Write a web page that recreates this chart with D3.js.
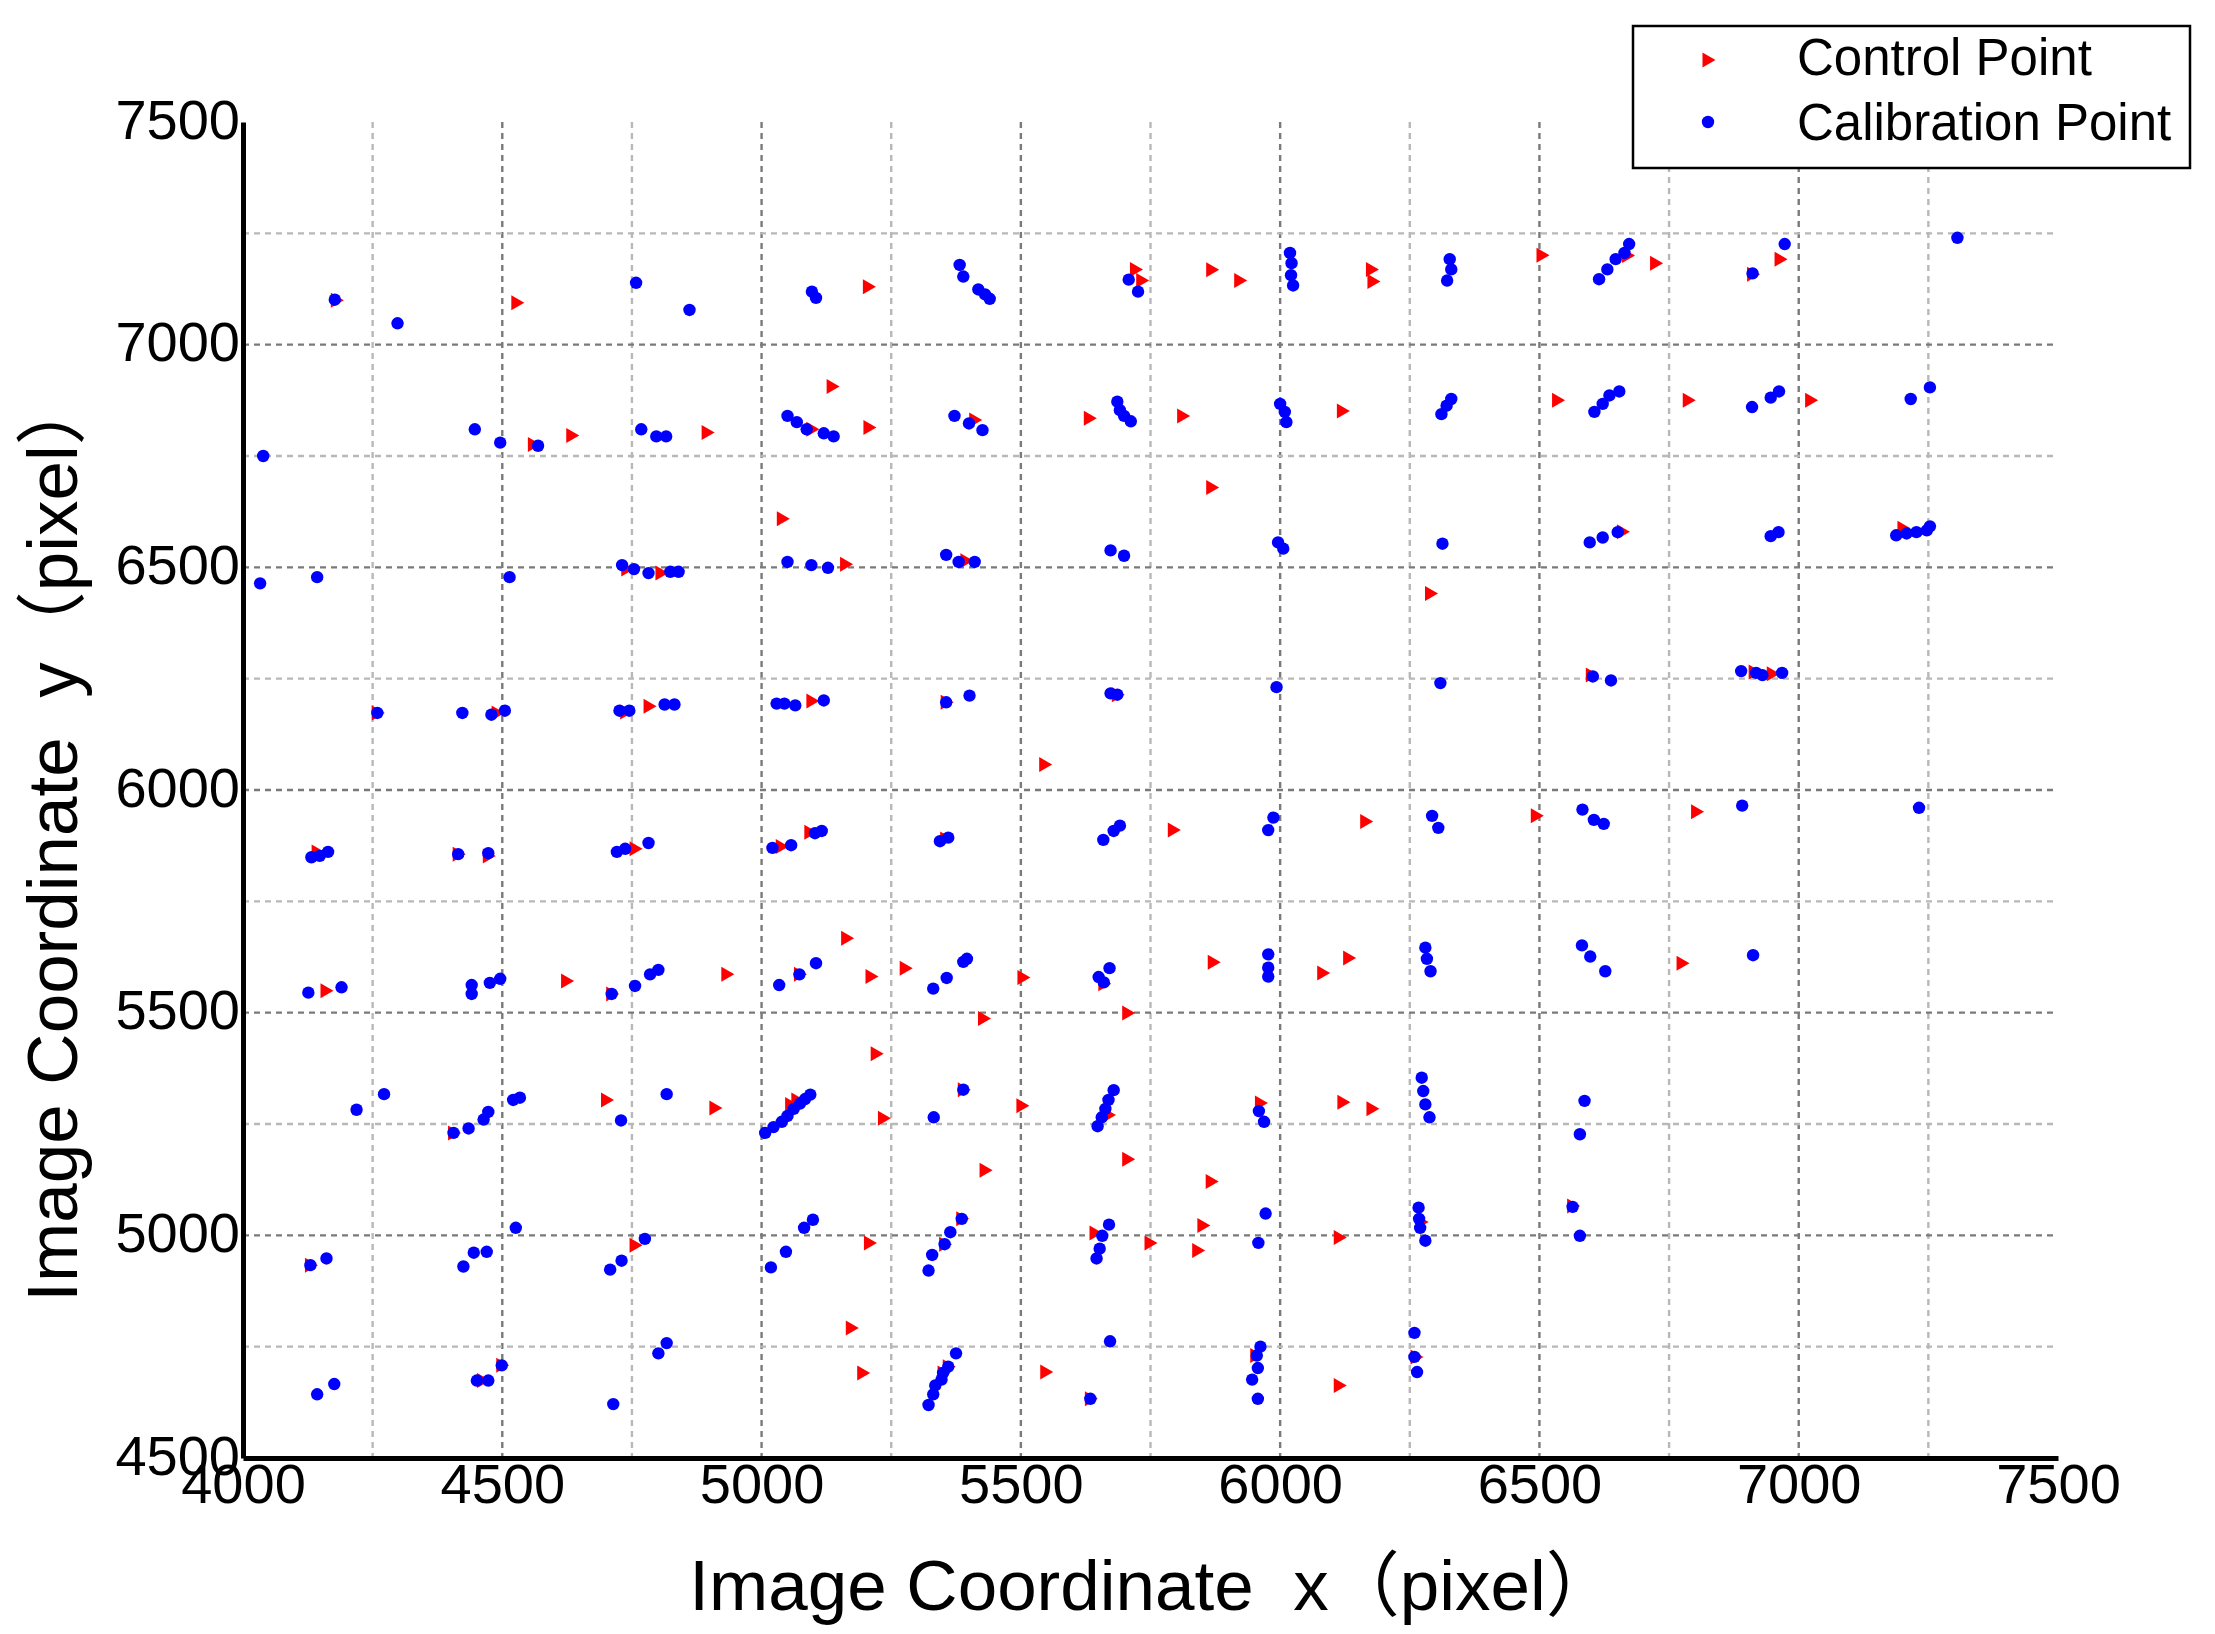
<!DOCTYPE html>
<html>
<head>
<meta charset="utf-8">
<script src="https://cdn.jsdelivr.net/npm/d3@7"></script>
<style>
  body { margin: 0; background: #fff; }
  text { font-family: "Liberation Sans", Arial, "Noto Sans CJK SC", sans-serif; }
</style>
</head>
<body>
<svg id="chart" width="2215" height="1634"></svg>
<script>
// red control points [x, y] in image pixels
const controlPoints = [
  [4180,7100],[4528,7094],[5206,7130],[5721,7169],[5733,7144],[5868,7168],[5922,7144],
  [6176,7169],[6179,7142],[6505,7201],[6670,7200],[6724,7183],[6911,7158],[6964,7192],
  [4560,6776],[4634,6796],[4895,6803],[5136,6906],[5097,6810],[5207,6814],[5411,6831],
  [5632,6835],[5812,6840],[6120,6851],[6535,6875],[6787,6875],[7023,6875],
  [5868,6679],[5040,6609],
  [4740,6496],[4806,6487],[5162,6507],[5394,6515],[6660,6580],[7201,6588],[6290,6441],
  [4259,6173],[4490,6173],[4738,6175],[4783,6188],[5097,6200],[5356,6197],[5686,6214],
  [5546,6057],[6949,6261],[6914,6265],[6600,6258],
  [5794,5910],[6165,5929],[6494,5942],[6803,5951],[4143,5861],[4415,5856],[4473,5852],
  [4756,5868],[5038,5873],[5093,5905],[5355,5890],
  [4160,5549],[4624,5571],[4711,5542],[4933,5586],[5073,5586],[5164,5667],[5211,5581],
  [5277,5600],[5504,5579],[5706,5499],[5428,5487],[5871,5613],[6082,5589],[6132,5623],
  [6775,5611],[5660,5565],
  [4406,5230],[4701,5304],[4910,5286],[5221,5408],[5056,5294],[5068,5304],[5235,5263],
  [5389,5327],[5502,5291],[5669,5270],[5962,5297],[6121,5299],[6177,5284],
  [5431,5146],[5706,5171],[5867,5121],[5851,5022],[5841,4966],
  [4130,4933],[4756,4978],[5208,4983],[5386,5037],[5353,4980],[5643,5005],[5749,4983],
  [6114,4995],[6564,5066],[6272,5030],
  [4462,4674],[4499,4708],[5173,4792],[5195,4691],[5350,4691],[5360,4705],[5548,4693],
  [5634,4633],[5953,4730],[6114,4663],[6262,4727]
];

// blue calibration points [x, y]
const calibrationPoints = [
  [4177,7101],[4298,7048],[4758,7139],[4861,7078],[5097,7119],[5105,7105],[5382,7179],
  [5389,7153],[5418,7124],[5431,7113],[5440,7103],[5708,7146],[5726,7119],[6019,7206],
  [6022,7183],[6021,7156],[6025,7133],[6327,7192],[6330,7169],[6322,7144],[6615,7147],
  [6631,7169],[6647,7192],[6664,7206],[6673,7226],[6911,7160],[6973,7226],[7306,7240],
  [4039,6750],[4447,6810],[4496,6780],[4569,6773],[4768,6810],[4797,6794],[4816,6794],
  [5050,6840],[5068,6826],[5087,6810],[5120,6801],[5139,6794],[5372,6840],[5400,6823],
  [5426,6808],[5686,6872],[5691,6853],[5699,6840],[5712,6828],[6000,6867],[6009,6849],
  [6012,6826],[6311,6844],[6321,6863],[6330,6878],[6606,6849],[6622,6867],[6635,6886],
  [6654,6895],[6910,6860],[6946,6881],[6962,6895],[7216,6878],[7253,6904],
  [4033,6464],[4143,6478],[4514,6478],[4731,6505],[4754,6496],[4782,6487],[4824,6490],
  [4840,6490],[5050,6512],[5096,6505],[5128,6499],[5356,6528],[5380,6512],[5411,6512],
  [5673,6538],[5699,6526],[5996,6556],[6006,6542],[6313,6553],[6597,6556],[6622,6567],
  [6651,6579],[6946,6570],[6961,6579],[7188,6572],[7208,6576],[7227,6579],[7247,6583],
  [7253,6592],
  [4259,6173],[4423,6173],[4479,6169],[4505,6178],[4726,6178],[4745,6178],[4813,6192],
  [4832,6192],[5029,6194],[5044,6194],[5065,6190],[5120,6201],[5356,6197],[5401,6212],
  [5673,6217],[5686,6214],[5993,6231],[6309,6240],[6603,6255],[6638,6246],[6889,6267],
  [6918,6263],[6930,6258],[6968,6263],
  [4132,5849],[4148,5852],[4164,5861],[4415,5856],[4473,5858],[4721,5861],[4737,5868],
  [4782,5881],[5021,5870],[5057,5876],[5103,5903],[5116,5908],[5344,5885],[5360,5893],
  [5659,5888],[5679,5908],[5691,5920],[5987,5938],[5977,5910],[6293,5942],[6305,5915],
  [6583,5956],[6605,5933],[6624,5924],[6891,5965],[7232,5960],
  [4126,5545],[4190,5557],[4441,5562],[4441,5542],[4476,5567],[4496,5576],[4711,5542],
  [4756,5560],[4785,5586],[4801,5596],[5034,5562],[5073,5586],[5105,5611],[5331,5554],
  [5357,5578],[5389,5614],[5396,5621],[5650,5580],[5660,5568],[5671,5600],[5977,5631],
  [5977,5601],[5977,5581],[6280,5646],[6283,5621],[6290,5593],[6582,5651],[6598,5626],
  [6627,5593],[6912,5629],
  [4219,5282],[4272,5317],[4406,5230],[4435,5240],[4464,5260],[4473,5277],[4521,5304],
  [4534,5309],[4729,5258],[4817,5317],[5007,5230],[5023,5243],[5039,5255],[5050,5268],
  [5062,5284],[5074,5296],[5084,5306],[5094,5316],[5332,5265],[5389,5327],[5648,5245],
  [5656,5265],[5663,5284],[5669,5304],[5679,5326],[5959,5279],[5969,5255],[6273,5354],
  [6276,5324],[6280,5294],[6288,5265],[6587,5302],[6578,5227],
  [4526,5017],[4130,4933],[4161,4948],[4425,4930],[4445,4961],[4470,4963],[4708,4923],
  [4730,4943],[4775,4992],[5018,4928],[5047,4963],[5082,5017],[5099,5035],[5322,4921],
  [5329,4956],[5353,4980],[5364,5007],[5386,5037],[5646,4948],[5652,4970],[5657,4999],
  [5670,5024],[5972,5049],[5958,4983],[6267,5062],[6268,5037],[6270,5017],[6280,4988],
  [6564,5064],[6578,4999],
  [4801,4735],[4817,4758],[4499,4708],[4451,4674],[4473,4674],[4143,4643],[4176,4666],
  [4714,4621],[5322,4619],[5331,4643],[5335,4663],[5347,4676],[5350,4691],[5360,4705],
  [5375,4735],[5672,4762],[5634,4633],[5962,4750],[5955,4730],[5957,4702],[5946,4676],
  [5957,4633],[6259,4781],[6259,4727],[6264,4693]
];

const xTicks = [4000, 4500, 5000, 5500, 6000, 6500, 7000, 7500];
const yTicks = [4500, 5000, 5500, 6000, 6500, 7000, 7500];
const legendLabels = ["Control Point", "Calibration Point"];

const plotLeft = 243, plotRight = 2058, plotTop = 122, plotBottom = 1458;

const svg = d3.select("#chart");

const x = d3.scaleLinear().domain([4000, 7500]).range([plotLeft, plotRight]);
const y = d3.scaleLinear().domain([4500, 7500]).range([plotBottom, plotTop]);

// grid lines every 250, darker on the 500s
const gx = d3.range(4250, 7500, 250);
const gy = d3.range(4750, 7500, 250);
const grid = svg.append("g");
grid.selectAll(".vg")
  .data(gx)
  .enter()
  .append("line")
  .attr("x1", (d) => x(d)).attr("x2", (d) => x(d))
  .attr("y1", plotTop).attr("y2", plotBottom)
  .attr("stroke", (d) => (d % 500 === 0 ? "#7a7a7a" : "#b8b8b8"))
  .attr("stroke-width", 2.4)
  .attr("stroke-dasharray", "6,5");
grid.selectAll(".hg")
  .data(gy)
  .enter()
  .append("line")
  .attr("y1", (d) => y(d)).attr("y2", (d) => y(d))
  .attr("x1", plotLeft).attr("x2", plotRight)
  .attr("stroke", (d) => (d % 500 === 0 ? "#7a7a7a" : "#b8b8b8"))
  .attr("stroke-width", 2.4)
  .attr("stroke-dasharray", "6,5");

// points
const tri = "M-5.5,-7.5L-5.5,7.5L7.5,0Z";
svg.append("g")
  .selectAll("path")
  .data(controlPoints)
  .enter()
  .append("path")
  .attr("d", tri)
  .attr("transform", (d) => `translate(${x(d[0])},${y(d[1])})`)
  .attr("fill", "#ff0000");

svg.append("g")
  .selectAll("circle")
  .data(calibrationPoints)
  .enter()
  .append("circle")
  .attr("cx", (d) => x(d[0]))
  .attr("cy", (d) => y(d[1]))
  .attr("r", 6.2)
  .attr("fill", "#0000ff");

// axes
const xAxis = svg.append("g")
  .attr("transform", `translate(0,${plotBottom})`)
  .call(d3.axisBottom(x).tickValues(xTicks).tickSize(0).tickPadding(0).tickFormat(d3.format("d")));
xAxis.select(".domain").attr("stroke", "#000").attr("stroke-width", 5);
xAxis.selectAll("text")
  .attr("dy", null)
  .attr("y", 45)
  .style("font-size", "56px")
  .style("fill", "#000");

const yAxis = svg.append("g")
  .attr("transform", `translate(${plotLeft},0)`)
  .call(d3.axisLeft(y).tickValues(yTicks).tickSize(0).tickPadding(0).tickFormat(d3.format("d")));
yAxis.select(".domain").attr("stroke", "#000").attr("stroke-width", 5);
yAxis.selectAll("text")
  .attr("dy", null)
  .attr("x", -3)
  .attr("y", 16)
  .style("font-size", "56px")
  .style("fill", "#000");

// axis titles
svg.append("text")
  .attr("x", 1153)
  .attr("y", 1610)
  .attr("text-anchor", "middle")
  .style("font-size", "71px")
  .style("white-space", "pre")
  .text("Image Coordinate  x（pixel）");

svg.append("text")
  .attr("transform", "translate(77,838) rotate(-90)")
  .attr("text-anchor", "middle")
  .style("font-size", "71px")
  .style("white-space", "pre")
  .text("Image Coordinate  y（pixel）");

// legend
const lg = svg.append("g");
lg.append("rect")
  .attr("x", 1633).attr("y", 26)
  .attr("width", 557).attr("height", 142)
  .attr("fill", "#fff")
  .attr("stroke", "#000")
  .attr("stroke-width", 2.5);
lg.append("path")
  .attr("d", tri)
  .attr("transform", "translate(1708,60)")
  .attr("fill", "#ff0000");
lg.append("circle")
  .attr("cx", 1708).attr("cy", 122).attr("r", 6.2)
  .attr("fill", "#0000ff");
lg.selectAll(".lt")
  .data(legendLabels)
  .enter()
  .append("text")
  .attr("x", 1797)
  .attr("y", (_, i) => 75 + i * 65)
  .style("font-size", "51px")
  .text((d) => d);
</script>
</body>
</html>
